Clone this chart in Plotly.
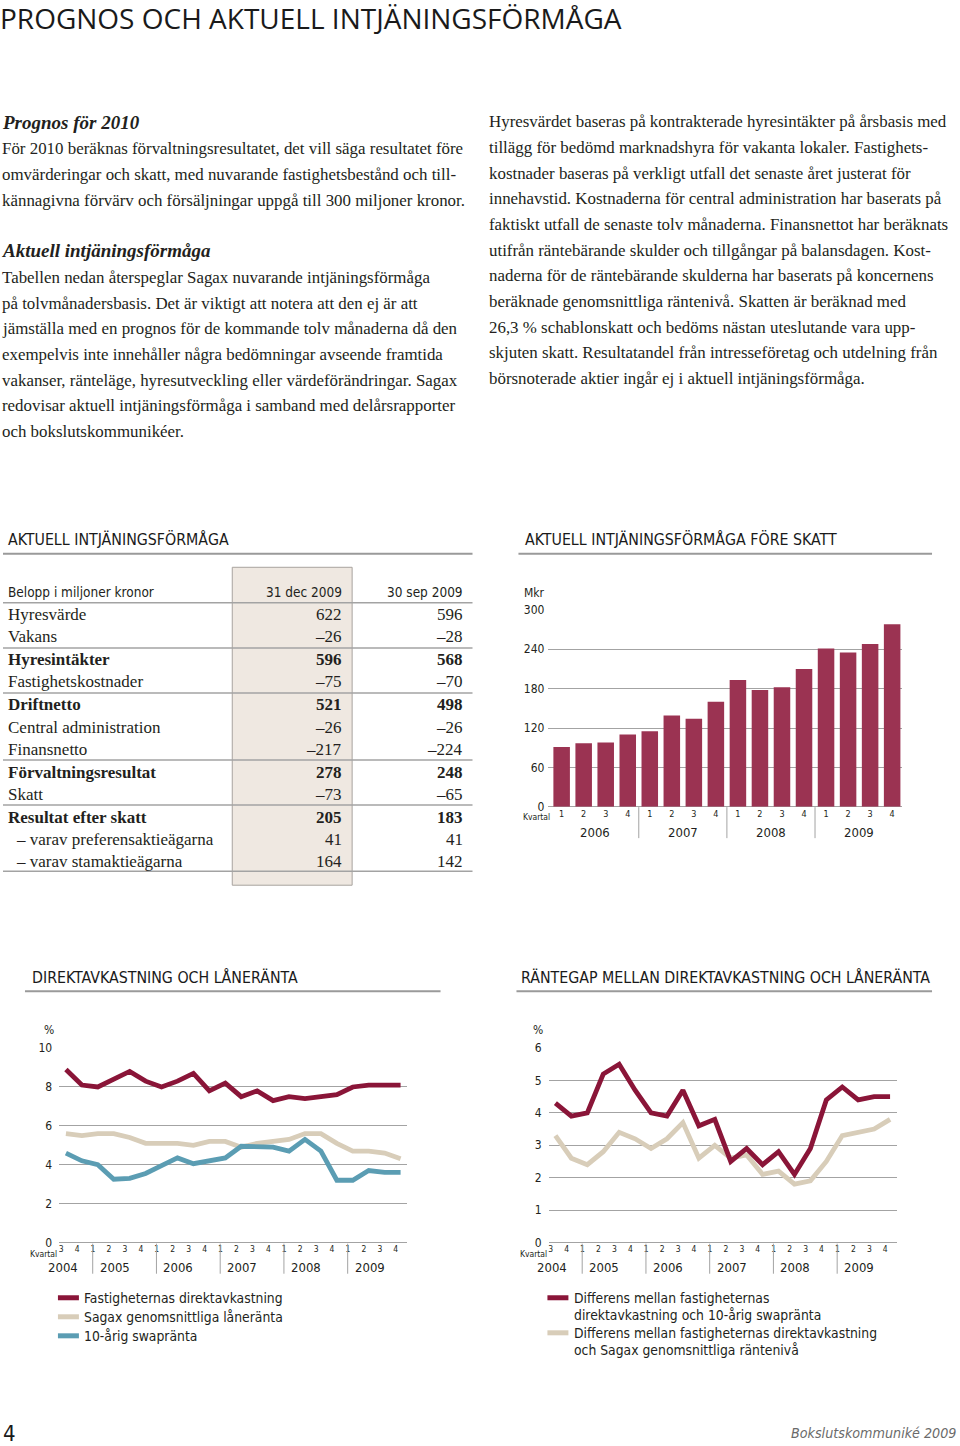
import plotly.graph_objects as go

W, H = 960, 1446

# ---------------- DATA ----------------
bar_quarters = ["1", "2", "3", "4"] * 4
bar_years = ["2006", "2007", "2008", "2009"]
bar_values = [91, 97, 98, 110, 115, 139, 134, 160, 193, 178, 182, 210, 241, 235, 248, 278]
bar_yticks = [0, 60, 120, 180, 240, 300]

line_quarters = ["3", "4"] + ["1", "2", "3", "4"] * 5
line_years = ["2004", "2005", "2006", "2007", "2008", "2009"]
direktavkastning = [8.9, 8.1, 8.0, 8.4, 8.8, 8.3, 8.0, 8.3, 8.7, 7.8, 8.2, 7.5, 7.8, 7.3, 7.5, 7.4, 7.5, 7.6, 8.0, 8.1, 8.1, 8.1]
laneranta = [5.6, 5.5, 5.6, 5.6, 5.4, 5.1, 5.1, 5.1, 5.0, 5.2, 5.2, 4.9, 5.1, 5.2, 5.3, 5.6, 5.6, 5.1, 4.7, 4.7, 4.6, 4.3]
swapranta = [4.6, 4.2, 4.0, 3.25, 3.3, 3.55, 3.95, 4.35, 4.05, 4.2, 4.35, 4.95, 4.9, 4.9, 4.7, 5.3, 4.7, 3.2, 3.2, 3.7, 3.6, 3.6]
gap_swap = [4.3, 3.9, 4.0, 5.2, 5.5, 4.7, 4.0, 3.9, 4.7, 3.6, 3.8, 2.5, 2.9, 2.4, 2.8, 2.1, 2.9, 4.4, 4.8, 4.4, 4.5, 4.5]
gap_lan = [3.3, 2.6, 2.4, 2.8, 3.4, 3.2, 2.9, 3.2, 3.7, 2.6, 3.0, 2.6, 2.7, 2.1, 2.2, 1.8, 1.9, 2.5, 3.3, 3.4, 3.5, 3.8]
left_yticks = [0, 2, 4, 6, 8, 10]
right_yticks = [0, 1, 2, 3, 4, 5, 6]

left_names = ["Fastigheternas direktavkastning", "Sagax genomsnittliga låneränta", "10-årig swapränta"]
right_names = [["Differens mellan fastigheternas", "direktavkastning och 10-årig swapränta"],
               ["Differens mellan fastigheternas direktavkastning", "och Sagax genomsnittliga räntenivå"]]

table_header = ["Belopp i miljoner kronor", "31 dec 2009", "30 sep 2009"]
table_labels = ["Hyresvärde", "Vakans", "Hyresintäkter", "Fastighetskostnader", "Driftnetto",
                "Central administration", "Finansnetto", "Förvaltningsresultat", "Skatt",
                "Resultat efter skatt", "– varav preferensaktieägarna", "– varav stamaktieägarna"]
table_dec = ["622", "–26", "596", "–75", "521", "–26", "–217", "278", "–73", "205", "41", "164"]
table_sep = ["596", "–28", "568", "–70", "498", "–26", "–224", "248", "–65", "183", "41", "142"]
table_bold = [False, False, True, False, True, False, False, True, False, True, False, False]
table_rule_after = [1, 3, 6, 8, 11]

page_title = "PROGNOS OCH AKTUELL INTJÄNINGSFÖRMÅGA"
left_col = [
    ("h", "Prognos för 2010"),
    ("t", "För 2010 beräknas förvaltningsresultatet, det vill säga resultatet före"),
    ("t", "omvärderingar och skatt, med nuvarande fastighetsbestånd och till-"),
    ("t", "kännagivna förvärv och försäljningar uppgå till 300 miljoner kronor."),
    ("h", "Aktuell intjäningsförmåga"),
    ("t", "Tabellen nedan återspeglar Sagax nuvarande intjäningsförmåga"),
    ("t", "på tolvmånadersbasis. Det är viktigt att notera att den ej är att"),
    ("t", "jämställa med en prognos för de kommande tolv månaderna då den"),
    ("t", "exempelvis inte innehåller några bedömningar avseende framtida"),
    ("t", "vakanser, ränteläge, hyresutveckling eller värdeförändringar. Sagax"),
    ("t", "redovisar aktuell intjäningsförmåga i samband med delårsrapporter"),
    ("t", "och bokslutskommunikéer."),
]
left_col_y = [123, 149, 175, 201, 251, 278, 304, 329, 355, 381, 406, 432]
right_col = [
    "Hyresvärdet baseras på kontrakterade hyresintäkter på årsbasis med",
    "tillägg för bedömd marknadshyra för vakanta lokaler. Fastighets-",
    "kostnader baseras på verkligt utfall det senaste året justerat för",
    "innehavstid. Kostnaderna för central administration har baserats på",
    "faktiskt utfall de senaste tolv månaderna. Finansnettot har beräknats",
    "utifrån räntebärande skulder och tillgångar på balansdagen. Kost-",
    "naderna för de räntebärande skulderna har baserats på koncernens",
    "beräknade genomsnittliga räntenivå. Skatten är beräknad med",
    "26,3 % schablonskatt och bedöms nästan uteslutande vara upp-",
    "skjuten skatt. Resultatandel från intresseföretag och utdelning från",
    "börsnoterade aktier ingår ej i aktuell intjäningsförmåga.",
]
right_col_y = [122, 148, 174, 199, 225, 251, 276, 302, 328, 353, 379]

# ---------------- STYLE ----------------
SERIF = "Liberation Serif, DejaVu Serif, serif"
COND = "Liberation Sans Narrow, DejaVu Sans Condensed, Roboto, sans-serif"
SANS = "Open Sans, Noto Sans, sans-serif"
TXT = "#231f20"
RED = "#8a1538"
BEIGE = "#d8cdb9"
BLUE = "#5b9db3"
BAR = "#9b3352"
GRID = "#a3a3a3"

VSCALE = 0.989  # vertical correction for the page capture


def px(x):
    return x / W


def py(y):
    yc = H / 2 + (y - H / 2) / VSCALE
    return 1 - yc / H


fig = go.Figure()
ann = []
shapes = []


def text(x, y, s, size, family=SERIF, color=TXT, xanchor="left", bold=False, italic=False):
    if bold:
        s = "<b>" + s + "</b>"
    if italic:
        s = "<i>" + s + "</i>"
    ann.append(dict(x=px(x), y=py(y), xref="paper", yref="paper", text=s, showarrow=False,
                    xanchor=xanchor, yanchor="middle", font=dict(size=size, family=family, color=color)))


def hline(x0, x1, y, color=GRID, width=1):
    shapes.append(dict(type="line", xref="paper", yref="paper", x0=px(x0), x1=px(x1), y0=py(y), y1=py(y),
                       line=dict(color=color, width=width)))


# page title
text(-3, 19, page_title, 28, family=SANS, color="#1a1a1a")

# text columns
for (kind, s), y in zip(left_col, left_col_y):
    if kind == "h":
        text(-1, y, s, 19, bold=True, italic=True)
    else:
        text(-1, y, s, 16.9)
for s, y in zip(right_col, right_col_y):
    text(487, y, s, 16.9)

# ---------------- TABLE ----------------
text(5, 540, "AKTUELL INTJÄNINGSFÖRMÅGA", 15.8, family=COND, color="#1a1a1a")
hline(2, 472, 554, color="#9a9a9a", width=2)
shapes.append(dict(type="rect", xref="paper", yref="paper", x0=px(231.5), x1=px(351.5), y0=py(567.5), y1=py(885),
                   fillcolor="#efe8e1", line=dict(color="#a8a39e", width=1), layer="below"))
text(5, 592, table_header[0], 13.5, family=COND)
text(343, 592, table_header[1], 13.5, family=COND, xanchor="right")
text(464, 592, table_header[2], 13.5, family=COND, xanchor="right")
hline(2, 472, 603, width=1.5)
row_y = [615, 637, 660, 682, 705, 727, 749, 772, 794, 817, 839, 861]
row_rule_y = {1: 648, 3: 693, 6: 760, 8: 805, 11: 871}
for i, (lab, a, b, bd, y) in enumerate(zip(table_labels, table_dec, table_sep, table_bold, row_y)):
    xlab = 13 if lab.startswith("–") else 5
    text(xlab, y, lab, 17, bold=bd)
    text(343, y, a, 17, bold=bd, xanchor="right")
    text(464, y, b, 17, bold=bd, xanchor="right")
    if i in table_rule_after:
        hline(2, 472, row_rule_y[i], width=1.5)

# ---------------- BAR CHART ----------------
text(523, 540, "AKTUELL INTJÄNINGSFÖRMÅGA FÖRE SKATT", 15.8, family=COND, color="#1a1a1a")
hline(518, 932, 554, color="#9a9a9a", width=2)

bx = list(range(len(bar_values)))
fig.add_trace(go.Bar(x=bx, y=bar_values, marker=dict(color=BAR, line=dict(width=0)), width=0.75,
                     xaxis="x", yaxis="y", showlegend=False))
bar_top, bar_bot = 610, 806.7
fig.update_layout(
    xaxis=dict(domain=[px(548), px(902)], range=[-0.6, 15.45], anchor="y",
               tickvals=bx, ticktext=bar_quarters, ticks="", showgrid=False, zeroline=False,
               tickfont=dict(size=9, family=COND, color=TXT), showline=False),
    yaxis=dict(domain=[py(bar_bot), py(bar_top)], range=[0, 300], anchor="x",
               tickvals=bar_yticks, showgrid=True, gridcolor=GRID, gridwidth=1, zeroline=True,
               zerolinecolor=GRID, zerolinewidth=1.2, ticks="", ticklabelstandoff=3,
               tickfont=dict(size=12, family=COND, color=TXT)),
)
text(522, 593, "Mkr", 12, family=COND)
text(521, 817, "Kvartal", 8.5, family=COND)
for k, yr in enumerate(bar_years):
    ann.append(dict(x=4 * k + 1.5, y=py(832), xref="x", yref="paper", text=yr, showarrow=False,
                    xanchor="center", yanchor="middle", font=dict(size=13, family=COND, color=TXT)))
    if k > 0:
        shapes.append(dict(type="line", xref="x", yref="paper", x0=4 * k - 0.5, x1=4 * k - 0.5,
                           y0=py(807), y1=py(838), line=dict(color=GRID, width=1)))

# ---------------- LINE CHARTS ----------------
lx = list(range(len(line_quarters)))
LBL_OFF = -0.3


def line_chart(xa, ya, left, yrange, yticks, series, heading, head_x, head_line):
    xname = "x" + xa[5:] if len(xa) > 5 else "x"
    yname = "y" + ya[5:] if len(ya) > 5 else "y"
    text(head_x, 977, heading, 15.8, family=COND, color="#1a1a1a")
    hline(head_line[0], head_line[1], 991, color="#9a9a9a", width=2)
    for vals, col in series:
        fig.add_trace(go.Scatter(x=lx, y=vals, mode="lines", line=dict(color=col, width=4.8),
                                 xaxis=xname, yaxis=yname, showlegend=False))
    x0p = left + 58.3
    x1p = left + 406.7
    fig.update_layout(**{
        xa: dict(domain=[px(x0p), px(x1p)], range=[-0.42, 21.42], anchor=yname,
                 tickvals=[i + LBL_OFF for i in lx], ticktext=line_quarters, ticks="",
                 showgrid=False, zeroline=False, showline=False,
                 tickfont=dict(size=8.5, family=COND, color=TXT)),
        ya: dict(domain=[py(1241.7), py(1047.7)], range=yrange, anchor=xname,
                 tickvals=yticks, showgrid=True, gridcolor=GRID, gridwidth=1,
                 zeroline=True, zerolinecolor=GRID, zerolinewidth=1.2, ticks="",
                 ticklabelstandoff=6, tickfont=dict(size=12, family=COND, color=TXT)),
    })
    text(left + 41, 1030, "%", 12, family=COND)
    text(left + 43, 1253, "Kvartal", 8.5, family=COND, xanchor="center")
    start = 0
    for k, yr in enumerate(line_years):
        n = 2 if k == 0 else 4
        center = start + (n - 1) / 2 + LBL_OFF - (0.4 if k == 0 else 0.15)
        ann.append(dict(x=center, y=py(1266.5), xref=xname, yref="paper", text=yr, showarrow=False,
                        xanchor="center", yanchor="middle", font=dict(size=13, family=COND, color=TXT)))
        if k > 0:
            sx = start - 0.5 + 0.18
            shapes.append(dict(type="line", xref=xname, yref="paper", x0=sx, x1=sx,
                               y0=py(1243), y1=py(1273), line=dict(color=GRID, width=1)))
        start += n


line_chart("xaxis2", "yaxis2", 0, [0, 10], left_yticks,
           [(laneranta, BEIGE), (swapranta, BLUE), (direktavkastning, RED)],
           "DIREKTAVKASTNING OCH LÅNERÄNTA", 29, (24, 440))
line_chart("xaxis3", "yaxis3", 490, [0, 6], right_yticks,
           [(gap_lan, BEIGE), (gap_swap, RED)],
           "RÄNTEGAP MELLAN DIREKTAVKASTNING OCH LÅNERÄNTA", 519, (516, 932))

# ---------------- LEGENDS ----------------
for name, col, y in zip(left_names, [RED, BEIGE, BLUE], [1297, 1316, 1335]):
    shapes.append(dict(type="rect", xref="paper", yref="paper", x0=px(57), x1=px(78), y0=py(y + 2.5),
                       y1=py(y - 2.5), fillcolor=col, line=dict(width=0)))
    text(81, y, name, 13.8, family=COND)
for lines, col, y in zip(right_names, [RED, BEIGE], [1297, 1332]):
    shapes.append(dict(type="rect", xref="paper", yref="paper", x0=px(547), x1=px(568), y0=py(y + 2.5),
                       y1=py(y - 2.5), fillcolor=col, line=dict(width=0)))
    text(572, y, lines[0], 13.8, family=COND)
    text(572, y + 17, lines[1], 13.8, family=COND)

# ---------------- FOOTER ----------------
text(0, 1433, "4", 22, family=COND, color="#1a1a1a")
text(958, 1432, "Bokslutskommuniké 2009", 14.2, family=COND, color="#6a6a6a", xanchor="right", italic=True)

fig.update_layout(width=W, height=H, margin=dict(l=0, r=0, t=0, b=0),
                  paper_bgcolor="white", plot_bgcolor="rgba(0,0,0,0)",
                  annotations=ann, shapes=shapes, bargap=0.25, showlegend=False)

post = ("document.documentElement.style.margin='0';document.documentElement.style.padding='0';"
        "document.body.style.margin='0';document.body.style.padding='0';document.body.style.overflow='hidden';"
        "var d=document.getElementById('{plot_id}');d.style.position='fixed';d.style.top='0px';d.style.left='0px';")
fig.write_html("out.html", config={"displayModeBar": False}, post_script=post)
